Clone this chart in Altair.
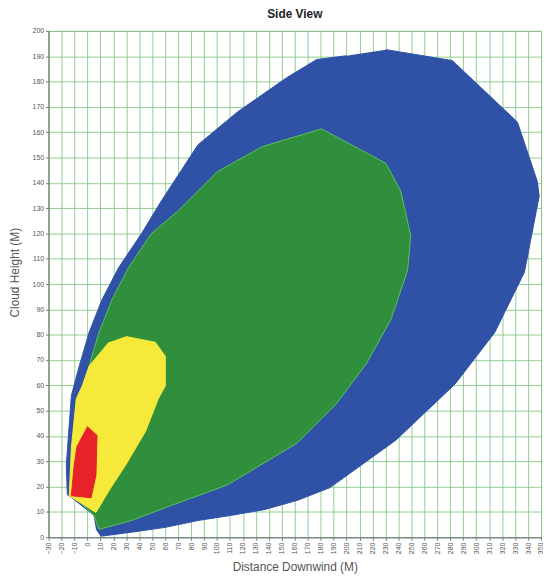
import altair as alt
import pandas as pd

# Axis tick labels
x_ticks = list(range(-30, 351, 10))
y_ticks = list(range(0, 201, 10))

# Zone outlines (Distance Downwind, Cloud Height)
blue_x = [199.8, 176.9, 154.0, 115.8, 85.3, 57.0, 41.8, 24.2, 11.2, 1.3, -6.3, -12.4, -16.3, -15.5,
          -12.0, 5.1, 7.0, 10.5, 34.1, 60.1, 85.3, 110.5, 136.4, 161.6, 186.8, 197.5, 237.9, 283.7,
          314.3, 337.2, 348.6, 347.1, 331.8, 281.5, 230.3]
blue_y = [190.2, 188.7, 181.6, 168.0, 155.0, 132.8, 120.0, 106.6, 93.8, 80.9, 67.6, 55.9, 28.5, 16.8,
          15.6, 8.6, 3.0, 0.4, 2.0, 3.9, 6.6, 8.6, 10.9, 14.5, 19.5, 23.4, 38.3, 60.5,
          80.9, 104.7, 134.8, 140.6, 164.0, 188.3, 192.6]

green_x = [180.7, 230.3, 241.8, 249.4, 247.1, 234.1, 215.0, 192.1, 161.6, 123.4, 108.2, 85.3, 60.1,
           34.1, 8.9, 5.1, -9.6, -12.4, -9.6, -4.0, 1.3, 8.9, 18.9, 31.8, 49.4, 70.0, 100.5, 134.9, 180.7]
green_y = [161.3, 147.7, 136.7, 119.1, 105.5, 85.9, 68.4, 52.7, 37.1, 25.4, 20.7, 16.4, 11.7,
           6.6, 3.1, 8.6, 15.6, 23.4, 46.9, 55.9, 67.6, 80.9, 93.8, 106.6, 120.0, 128.9, 144.5, 154.3, 161.3]

yellow_x = [29.5, 52.4, 60.1, 60.1, 54.7, 44.8, 29.5, 16.6, 6.6, -14.0, -12.4, -8.6, -4.0, 1.3, 16.6]
yellow_y = [79.3, 77.0, 71.5, 59.8, 54.7, 41.8, 28.5, 18.4, 9.8, 16.4, 35.2, 54.7, 59.8, 67.6, 77.0]

red_x = [-0.2, 7.4, 6.6, 2.8, -12.4, -10.2, -7.9]
red_y = [43.75, 40.2, 24.6, 15.6, 16.4, 28.5, 36.3]

zones = [
    ("blue", blue_x, blue_y, "#2f52a6", "#2f52a6"),
    ("green", green_x, green_y, "#2f8f3c", "#5cc25a"),
    ("yellow", yellow_x, yellow_y, "#f7e93a", "#f7e93a"),
    ("red", red_x, red_y, "#e8222a", "#e8222a"),
]

rows = []
for name, xs, ys, _, _ in zones:
    for i, (a, b) in enumerate(zip(xs, ys)):
        rows.append({"zone": name, "x": a, "y": b, "i": i})
df = pd.DataFrame(rows)

xscale = alt.Scale(domain=[-30, 350], nice=False, zero=False)
yscale = alt.Scale(domain=[0, 200], nice=False, zero=False)

xaxis = alt.Axis(values=x_ticks, labelAngle=270, labelFontSize=7, labelColor="#555",
                 labelAlign="right", labelBaseline="middle",
                 title="Distance Downwind (M)", titleFontSize=12, titleFontWeight="normal",
                 titleColor="#555", titleY=30, titleBaseline="middle",
                 gridColor="#86c886", gridWidth=1, gridOpacity=0.9,
                 domainColor="#777", tickColor="#777", tickSize=3)
yaxis = alt.Axis(values=y_ticks, labelFontSize=7, labelColor="#555",
                 title="Cloud Height (M)", titleFontSize=12, titleFontWeight="normal",
                 titleColor="#555", titleX=-34, titleY=244, titleAngle=270,
                 titleBaseline="middle", titleAlign="center",
                 gridColor="#86c886", gridWidth=1, gridOpacity=0.9,
                 domainColor="#777", tickColor="#777", tickSize=3)

layers = []
for k, (name, xs, ys, fill, stroke) in enumerate(zones):
    layers.append(
        alt.Chart(df)
        .transform_filter(alt.datum.zone == name)
        .mark_line(filled=True, fill=fill, stroke=stroke, strokeWidth=1)
        .encode(
            x=alt.X("x:Q", scale=xscale, axis=xaxis),
            y=alt.Y("y:Q", scale=yscale, axis=yaxis),
            order=alt.Order("i:Q"),
        )
    )

chart = (
    alt.layer(*layers)
    .properties(
        width=498, height=512,
        title=alt.TitleParams("Side View", fontSize=12, fontWeight="bold", color="#222", offset=6),
        padding={"left": 41, "top": 20, "right": 2, "bottom": 34},
        autosize=alt.AutoSizeParams(type="none"),
    )
    .configure(font="Liberation Sans")
    .configure_view(stroke="#999", strokeWidth=1)
)

chart.save("out.html", embed_options={"renderer": "svg", "actions": False})
